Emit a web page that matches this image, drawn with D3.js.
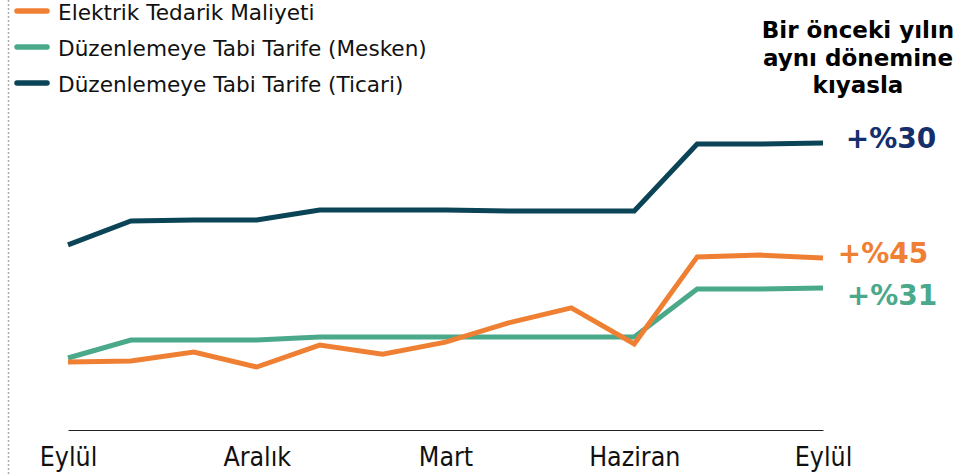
<!DOCTYPE html>
<html>
<head>
<meta charset="utf-8">
<style>
	body { margin: 0; background: #fff; }
	svg { position: absolute; top: 0px; left: 0px; }
	.series { fill: none; stroke-width: 5px; stroke-linejoin: miter; }
	.legend text { font-family: "DejaVu Sans", Verdana, sans-serif; font-size: 21.6px; fill: #111; }
	.axis text { font-family: "DejaVu Sans Condensed", "DejaVu Sans", sans-serif; font-size: 26.5px; fill: #111; }
	.note { font-family: "DejaVu Sans", Verdana, sans-serif; font-weight: bold; font-size: 23px; fill: #000; }
	.endlabel { font-family: "DejaVu Sans", Verdana, sans-serif; font-weight: bold; font-size: 28px; }
</style>
<script src="https://cdnjs.cloudflare.com/ajax/libs/d3/7.8.5/d3.min.js"></script>
</head>
<body>
<svg width="963" height="476"></svg>
<script>
// months, Eylül -> Eylül
var months = ["Eylül", "Ekim", "Kasım", "Aralık", "Ocak", "Şubat", "Mart", "Nisan", "Mayıs", "Haziran", "Temmuz", "Ağustos", "Eylül"];
var tickIdx = [0, 3, 6, 9, 12];

// index values (no y axis shown)
var tedarik = [22.7, 23, 26, 21, 28.3, 25.3, 29.3, 35.7, 40.7, 28.7, 57.7, 58.3, 57.3];
var mesken = [24, 30, 30, 30, 31, 31, 31, 31, 31, 31, 47, 47, 47.3];
var ticari = [61.7, 69.7, 70, 70, 73.3, 73.3, 73.3, 73, 73, 73, 95.3, 95.3, 95.7];

var seriesNames = ["Elektrik Tedarik Maliyeti", "Düzenlemeye Tabi Tarife (Mesken)", "Düzenlemeye Tabi Tarife (Ticari)"];
var seriesColors = ["#ef8033", "#4aa98a", "#0b4457"];
var endLabels = ["+%45", "+%31", "+%30"];
var endColors = ["#ef8033", "#4aa98a", "#142f6b"];

var svg = d3.select("svg"),
	width = +svg.attr("width"),
	height = +svg.attr("height");

var x = d3.scalePoint().domain(d3.range(months.length)).range([68, 823]);
var y = d3.scaleLinear().domain([0, 100]).range([430, 130]);

// dotted frame line on the left
svg.append("line")
	.attr("x1", 8.5).attr("x2", 8.5).attr("y1", 0).attr("y2", height)
	.attr("stroke", "#aaa").attr("stroke-width", 1.5).attr("stroke-dasharray", "2,2");

// x axis
var axis = svg.append("g").attr("class", "axis")
	.attr("transform", "translate(0,430)")
	.call(d3.axisBottom(x).tickValues(tickIdx).tickSize(0).tickPadding(17)
		.tickFormat(function(i) { return months[i]; }));
axis.select(".domain").attr("stroke", "#222").attr("stroke-width", 1.2);
axis.selectAll("text").attr("font-family", null).attr("font-size", null);

var line = d3.line()
	.x(function(d, i) { return x(i); })
	.y(function(d) { return y(d); });

var data = [tedarik, mesken, ticari];
// draw in order ticari, mesken, tedarik so orange sits on top where it crosses
[2, 1, 0].forEach(function(k) {
	svg.append("path").attr("class", "series")
		.datum(data[k])
		.attr("stroke", seriesColors[k])
		.attr("d", line);
});

// end labels
var endX = [883, 892, 891];
var endDy = [5, 17, 5];
data.forEach(function(s, k) {
	svg.append("text").attr("class", "endlabel")
		.attr("x", endX[k])
		.attr("y", y(s[s.length - 1]) + endDy[k])
		.attr("text-anchor", "middle")
		.attr("fill", endColors[k])
		.text(endLabels[k]);
});

// note
var note = ["Bir önceki yılın", "aynı dönemine", "kıyasla"];
svg.append("text").attr("class", "note")
	.attr("text-anchor", "middle")
	.selectAll("tspan").data(note).enter().append("tspan")
	.attr("x", 858)
	.attr("y", function(d, i) { return 38 + i * 27.5; })
	.text(function(d) { return d; });

// legend
var legend = svg.append("g").attr("class", "legend");
seriesNames.forEach(function(n, k) {
	var ly = 11 + k * 36;
	legend.append("line")
		.attr("x1", 17).attr("x2", 47).attr("y1", ly).attr("y2", ly)
		.attr("stroke", seriesColors[k]).attr("stroke-width", 5.5)
		.attr("stroke-linecap", "round");
	legend.append("text")
		.attr("x", 58).attr("y", ly + 8.5)
		.text(n);
});
</script>
</body>
</html>
